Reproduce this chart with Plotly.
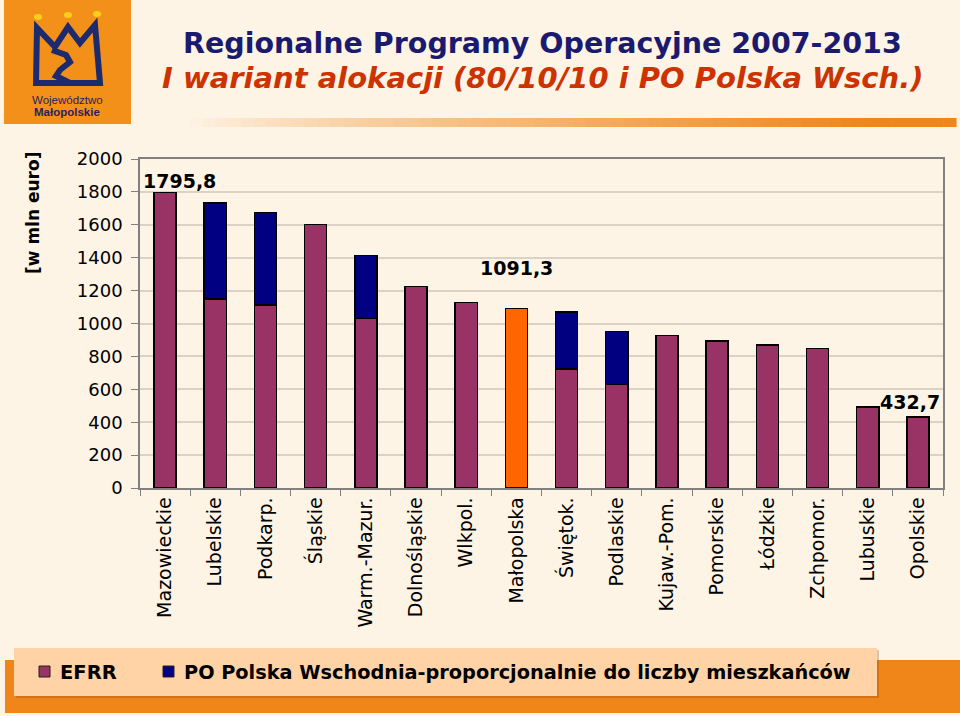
import plotly.graph_objects as go

# ---------------- data ----------------
categories = ["Mazowieckie", "Lubelskie", "Podkarp.", "Śląskie", "Warm.-Mazur.",
              "Dolnośląskie", "Wlkpol.", "Małopolska", "Świętok.", "Podlaskie",
              "Kujaw.-Pom.", "Pomorskie", "Łódzkie", "Zchpomor.", "Lubuskie", "Opolskie"]
efrr = [1795.8, 1149, 1114, 1603, 1029, 1224, 1129, 1091.3, 723, 628,
        928, 894, 869, 847, 492, 432.7]
po_wschod = [None, 585, 560, None, 385, None, None, None, 347, 324,
             None, None, None, None, None, None]
y_ticks = [0, 200, 400, 600, 800, 1000, 1200, 1400, 1600, 1800, 2000]
value_labels = {0: "1795,8", 7: "1091,3", 15: "432,7"}
highlight = "Małopolska"

# ---------------- styling ----------------
W, H = 960, 716
L, R, T, B = 140, 17, 159, 228
PW, PH = W - L - R, H - T - B
BG = "#FDF4E6"
MAROON = "#993366"
NAVY = "#000080"
ORANGE_BAR = "#FF6600"
BAND = "#F0861A"
FONT = "DejaVu Sans"


def px(x):
    return (x - L) / PW


def py(y):
    return (H - B - y) / PH


efrr_colors = [ORANGE_BAR if c == highlight else MAROON for c in categories]

fig = go.Figure()
fig.add_trace(go.Bar(x=categories, y=efrr, name="EFRR",
                     marker=dict(color=efrr_colors, line=dict(color="black", width=1.5))))
fig.add_trace(go.Bar(x=categories, y=po_wschod,
                     name="PO Polska Wschodnia-proporcjonalnie do liczby mieszkańców",
                     marker=dict(color=NAVY, line=dict(color="black", width=1.5))))

shapes = []
annotations = []


def note(x, y, text, size, color="black", family=FONT, xanchor="center", yanchor="middle", **kw):
    annotations.append(dict(xref="paper", yref="paper", x=px(x), y=py(y), text=text,
                            showarrow=False, xanchor=xanchor, yanchor=yanchor,
                            font=dict(family=family, size=size, color=color), **kw))


# logo block
shapes.append(dict(type="rect", xref="paper", yref="paper", x0=px(4), x1=px(131),
                   y0=py(124), y1=py(0), fillcolor="#F39019", line=dict(width=0)))


def path_from(points, close=False):
    s = "M " + " L ".join(f"{px(x):.5f},{py(y):.5f}" for x, y in points)
    return s + (" Z" if close else "")


crown = [(36, 83), (37, 28), (55, 47), (68, 27), (80, 43), (95, 25), (100, 83)]
shapes.append(dict(type="path", xref="paper", yref="paper", path=path_from(crown, True),
                   line=dict(color="#1C2A6E", width=6), fillcolor="rgba(0,0,0,0)"))
swirl = [(52, 50), (66, 55), (70, 62), (60, 70), (56, 76), (70, 83)]
shapes.append(dict(type="path", xref="paper", yref="paper", path=path_from(swirl),
                   line=dict(color="#1C2A6E", width=6)))
for cx, cy in [(38, 17), (68, 15), (97, 14)]:
    shapes.append(dict(type="circle", xref="paper", yref="paper",
                       x0=px(cx - 4), x1=px(cx + 4), y0=py(cy + 3), y1=py(cy - 3),
                       fillcolor="#F7D117", line=dict(width=0)))
note(67, 100, "Województwo", 11.5, "#2B2160", "Liberation Sans")
note(67, 112, "<b>Małopolskie</b>", 11.5, "#2B2160", "Liberation Sans")

# gradient line under title
x_start, x_end, n = 190, 956, 60
c0 = (0xFD, 0xF4, 0xE6)
c1 = (0xF0, 0x86, 0x1A)
for i in range(n):
    xa = x_start + (x_end - x_start) * i / n
    xb = x_start + (x_end - x_start) * (i + 1) / n + 0.6
    t = min(1.0, ((i + 0.5) / n) / 0.88) ** 0.8
    col = "rgb(%d,%d,%d)" % tuple(round(c0[k] + (c1[k] - c0[k]) * t) for k in range(3))
    shapes.append(dict(type="rect", xref="paper", yref="paper", x0=px(xa), x1=px(xb),
                       y0=py(127), y1=py(118), fillcolor=col, line=dict(width=0)))

# titles
note(542, 43, "<b>Regionalne Programy Operacyjne 2007-2013</b>", 28.5, "#1A1A6E")
note(542, 78, "<b><i>I wariant alokacji (80/10/10 i PO Polska Wsch.)</i></b>", 29, "#CC3300")

# y axis title
note(33, 213, "<b>[w mln euro]</b>", 17, textangle=-90)

# value labels
offsets = {0: (14, 12), 7: (0, 40), 15: (-8, 15)}
for idx, txt in value_labels.items():
    dx, dy = offsets[idx]
    annotations.append(dict(x=idx, y=efrr[idx], xref="x", yref="y", text=f"<b>{txt}</b>",
                            showarrow=False, xshift=dx, yshift=dy, xanchor="center",
                            yanchor="middle", font=dict(family=FONT, size=19, color="black")))

# bottom band + legend
shapes.append(dict(type="rect", xref="paper", yref="paper", x0=px(5), x1=px(962),
                   y0=py(713), y1=py(660), fillcolor=BAND, line=dict(width=0)))
shapes.append(dict(type="rect", xref="paper", yref="paper", x0=px(16), x1=px(879),
                   y0=py(698), y1=py(650), fillcolor="rgba(120,60,0,0.25)", line=dict(width=0)))
shapes.append(dict(type="rect", xref="paper", yref="paper", x0=px(14), x1=px(877),
                   y0=py(696), y1=py(648), fillcolor="#FFD3A6", line=dict(width=0)))
for x0, col in [(39, MAROON), (163, NAVY)]:
    shapes.append(dict(type="rect", xref="paper", yref="paper", x0=px(x0), x1=px(x0 + 11),
                       y0=py(677), y1=py(666), fillcolor=col, line=dict(color="#222222", width=1)))
note(58, 672, "<b>EFRR</b>", 19.5, xanchor="left")
note(182, 672, "<b>PO Polska Wschodnia-proporcjonalnie do liczby mieszkańców</b>", 19.3,
     xanchor="left")

fig.update_layout(
    width=W, height=H, margin=dict(l=L, r=R, t=T, b=B, autoexpand=False),
    paper_bgcolor=BG, plot_bgcolor=BG, barmode="stack", bargap=0.56,
    showlegend=False, shapes=shapes, annotations=annotations,
    font=dict(family=FONT, color="black"),
)
fig.update_xaxes(type="category", range=[-0.5, len(categories) - 0.5], tickangle=-90,
                 tickson="boundaries", ticks="outside", ticklen=6, tickcolor="#808080",
                 showline=True, linecolor="#808080", linewidth=1.5, mirror=True,
                 showgrid=False, tickfont=dict(family=FONT, size=19, color="black"))
fig.update_yaxes(range=[0, 2000], tickvals=y_ticks, ticks="outside", ticklen=7,
                 tickcolor="#808080", showline=True, linecolor="#808080", linewidth=1.5,
                 mirror=True, showgrid=True, gridcolor="#D9D2C5", gridwidth=1.5,
                 zeroline=False, ticklabelstandoff=5,
                 tickfont=dict(family=FONT, size=18, color="black"))

fig.write_html("out.html", config={"displayModeBar": False},
               post_script="document.body.style.margin='0';"
                           "document.body.style.background='#FDF4E6';")
